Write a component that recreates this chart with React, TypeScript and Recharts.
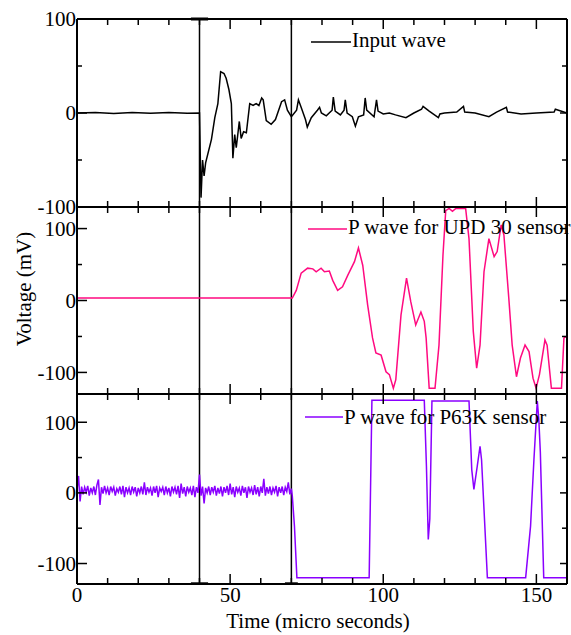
import React from 'react';
import { LineChart, Line, XAxis, YAxis, ReferenceLine, Legend } from 'recharts';

const FONT = '"Liberation Serif", "Times New Roman", serif';
const FS = 21;

const timeTicks = [0, 10, 20, 30, 40, 50, 60, 70, 80, 90, 100, 110, 120, 130, 140, 150, 160];
const voltTicks = [-100, -50, 0, 50, 100];
const markerTimes = [40, 70];

// [time (micro s), voltage (mV)]
const inputWave = [
  [0, 0], [6, 0.5], [12, -0.5], [18, 0.5], [24, -0.3], [30, 0.4], [36, -0.3], [40, 0],
  [40.5, -90], [41, -50], [41.5, -67], [42, -53], [43.9, -28], [45, -5], [46, 10], [46.9, 44],
  [48, 42], [48.7, 37], [49.6, 25], [50.4, 10], [50.9, -48], [51.5, -23], [52, -37], [53, -9],
  [53.6, -27], [54.4, -20], [55.3, -21], [56.4, 10], [57.5, 8], [58.5, 10], [59.4, 8], [60.3, 16],
  [60.8, 14], [61.8, -8], [63.4, -12], [64.8, -7], [66.8, 12], [67.8, 14], [68.7, 3], [70, -4],
  [71.7, 3], [72.3, 14], [73.3, 5], [74.6, -7], [75.2, -15], [76.5, -5], [78.5, 3], [79.2, 6],
  [79.8, 0], [81.4, -3], [83.3, 3], [83.7, 17], [84.3, 2], [86, -2], [87.2, 3], [87.6, 14],
  [88.2, 0], [89.9, -4], [90.9, -14], [91.9, -4], [93.6, -2], [94.1, 16], [94.6, 3], [97, -4],
  [97.8, 14], [98.3, 2], [100, -1], [102, 0], [104, -2], [107.4, -5], [110, 0], [112.5, 4],
  [113, 7], [115, 2], [118, -5], [118.5, -1], [120, 0], [124, 1], [126.2, 7], [126.6, 1],
  [130, 0], [134.5, -4], [137, 1], [140.2, 6], [140.6, 1], [145, -1], [150, 0], [155.8, 1],
  [156.2, 4], [160, 0],
];

const upd30Wave = [
  [0, 3.5], [70.3, 3.5], [71.6, 14], [73.2, 38], [75.3, 45], [77, 44], [78.1, 40], [79.7, 45],
  [80.8, 40], [82.4, 41], [83.5, 28], [85.1, 14], [86.7, 19], [88.4, 35], [90.6, 54], [91.9, 73],
  [93.3, 49], [94.9, -6], [96.5, -52], [97.6, -73], [99.3, -76], [100.9, -99], [102, -103],
  [103.3, -122], [104.1, -110], [105.8, -20], [107.6, 31], [109, -2], [110.6, -34], [112.3, -16],
  [113.4, -29], [114, -52], [115, -122], [116.9, -122], [118.2, -62], [119.5, 63], [120.4, 125],
  [121.5, 128], [122.6, 124], [123.7, 128], [126.9, 128], [128, 86], [129.4, -43], [130.5, -94],
  [131.6, -62], [132.9, 40], [134.5, 86], [136.2, 61], [137.2, 68], [138.5, 105], [139.4, 91],
  [141, 3], [142.1, -62], [143.5, -106], [144.8, -80], [146.3, -62], [147.6, -71], [148.9, -108],
  [149.9, -122], [151, -103], [152.8, -55], [153.5, -62], [154.9, -122], [158.2, -122], [159, -52],
  [160, -50],
];

const p63kWave = [
  [0, 4], [0.5, 24], [1, -12], [1.5, 9], [2, -2], [2.5, 8], [3, 1], [3.5, 10], [4, -4], [4.5, 7],
  [5, 0], [5.5, 9], [6, -3], [6.5, 11], [7, 19], [7.5, -17], [8, 8], [8.5, -1], [9, 10], [9.5, 0],
  [10, 7], [10.5, -3], [11, 9], [11.5, 2], [12, 8], [12.5, -4], [13, 6], [13.5, 1], [14, 9], [14.5, -2],
  [15, 10], [15.5, -6], [16, 8], [16.5, 0], [17, 7], [17.5, -3], [18, 9], [18.5, 1], [19, 8], [19.5, -5],
  [20, 7], [20.5, 0], [21, 9], [21.5, -2], [22, 15], [22.5, -3], [23, 8], [23.5, 1], [24, 7], [24.5, -4],
  [25, 9], [25.5, 0], [26, 10], [26.5, -6], [27, 7], [27.5, 2], [28, 8], [28.5, -3], [29, 9], [29.5, 0],
  [30, 7], [30.5, -5], [31, 9], [31.5, 1], [32, 8], [32.5, -2], [33, 10], [33.5, -7], [34, 13], [34.5, -1],
  [35, 8], [35.5, -5], [36, 9], [36.5, 1], [37, 7], [37.5, -3], [38, 10], [38.5, -6], [39, 8], [39.5, 0],
  [40, 26], [40.5, -4], [41, 9], [41.5, -15], [42, 7], [42.5, 0], [43, 9], [43.5, -3], [44, 8], [44.5, 1],
  [45, 10], [45.5, -4], [46, 7], [46.5, -1], [47, 9], [47.5, -5], [48, 8], [48.5, 0], [49, 10], [49.5, -3],
  [50, 13], [50.5, -2], [51, 8], [51.5, -6], [52, 9], [52.5, 1], [53, 7], [53.5, -4], [54, 10], [54.5, 0],
  [55, 8], [55.5, -7], [56, 9], [56.5, 1], [57, 7], [57.5, -3], [58, 11], [58.5, -2], [59, 8], [59.5, -5],
  [60, 9], [60.5, 0], [61, 20], [61.5, -4], [62, 8], [62.5, -1], [63, 9], [63.5, -3], [64, 7], [64.5, 1],
  [65, 10], [65.5, -5], [66, 8], [66.5, 0], [67, 9], [67.5, -3], [68, 8], [68.5, 2], [69, 15], [69.5, -2],
  [70, 6], [70.3, -4], [71, -47], [71.8, -120], [95.4, -120], [96.3, 131], [113.4, 131],
  [114.1, 38], [114.7, -66], [115.2, -37], [115.9, 130], [128, 130], [128.9, 33], [129.6, 5],
  [130.7, 38], [131.6, 66], [132.1, 47], [134, -120], [146.5, -120], [148.1, -47], [149.2, 47],
  [150.3, 130], [150.8, 104], [151.3, 57], [152.4, -120], [160, -120],
];

const toRows = (pts: number[][]) => pts.map(([t, v]) => ({ t, v }));

const bottomTick = (labels: boolean) => (props: any) => {
  const x = Number(props.x);
  const y = Number(props.y);
  const value = props.payload.value;
  const major = value % 50 === 0;
  return (
    <g>
      <line x1={x} x2={x} y1={y} y2={y - (major ? 10 : 6)} stroke="#000" strokeWidth={1.5} />
      {labels && major && (
        <text x={x} y={y + 18} textAnchor="middle" fontFamily={FONT} fontSize={FS} fill="#000">
          {value}
        </text>
      )}
    </g>
  );
};

const TopTick = (props: any) => {
  const x = Number(props.x);
  const y = Number(props.y);
  const major = props.payload.value % 50 === 0;
  return <line x1={x} x2={x} y1={y} y2={y + (major ? 10 : 6)} stroke="#000" strokeWidth={1.5} />;
};

const LeftTick = (props: any) => {
  const x = Number(props.x);
  const y = Number(props.y);
  const value = props.payload.value;
  const major = value % 100 === 0;
  return (
    <g>
      <line x1={x} x2={x + (major ? 10 : 5)} y1={y} y2={y} stroke="#000" strokeWidth={1.5} />
      {major && (
        <text x={x - 1} y={y} dy="0.35em" textAnchor="end" fontFamily={FONT} fontSize={FS} fill="#000">
          {value}
        </text>
      )}
    </g>
  );
};

const RightTick = (props: any) => {
  const x = Number(props.x);
  const y = Number(props.y);
  const major = props.payload.value % 100 === 0;
  return <line x1={x} x2={x - (major ? 7 : 5)} y1={y} y2={y} stroke="#000" strokeWidth={1.5} />;
};

const axisLine = { stroke: '#000', strokeWidth: 2 };

// the box round each panel: four axes, ticks pointing inward
function frame(domain: number[], timeLabels: boolean) {
  return [
    <XAxis key="xb" xAxisId="b" type="number" dataKey="t" domain={[0, 160]} ticks={timeTicks} interval={0}
      height={1} tickSize={0} tickMargin={0} axisLine={axisLine} tickLine={false}
      tick={bottomTick(timeLabels)} allowDataOverflow />,
    <XAxis key="xt" xAxisId="t" orientation="top" type="number" dataKey="t" domain={[0, 160]} ticks={timeTicks}
      interval={0} height={1} tickSize={0} tickMargin={0} axisLine={axisLine} tickLine={false}
      tick={TopTick} allowDataOverflow />,
    <YAxis key="yl" yAxisId="l" type="number" domain={domain} ticks={voltTicks} interval={0} width={60}
      tickSize={0} tickMargin={0} axisLine={axisLine} tickLine={false} tick={LeftTick} allowDataOverflow />,
    <YAxis key="yr" yAxisId="r" orientation="right" type="number" domain={domain} ticks={voltTicks} interval={0}
      width={1} tickSize={0} tickMargin={0} axisLine={axisLine} tickLine={false} tick={RightTick} allowDataOverflow />,
  ];
}

function markers() {
  return markerTimes.map((t) => (
    <ReferenceLine key={'m' + t} x={t} xAxisId="b" yAxisId="l" stroke="#000" strokeWidth={1.5} ifOverflow="hidden" />
  ));
}

const legendContent = (label: string, color: string, x1: number, x2: number, y: number, base: number) => () => (
  <svg width={571} height={70} style={{ display: 'block', overflow: 'hidden' }}>
    <line x1={x1} x2={x2} y1={y} y2={y} stroke={color} strokeWidth={1.5} />
    <text x={x2 + 1} y={base} fontFamily={FONT} fontSize={FS} fill="#000">{label}</text>
  </svg>
);

const legendWrap = { left: 0, top: 0, width: 571, height: 70, margin: 0, padding: 0 };

const App = () => {
  return (
    <div style={{ position: 'absolute', left: 0, top: 0, width: 571, height: 635, background: '#fff' }}>
      {/* Input wave */}
      <div style={{ position: 'absolute', left: 0, top: 0 }}>
        <LineChart width={571} height={230} margin={{ top: 18, right: 3, bottom: 22, left: 17 }}>
          {frame([-100, 100], false)}
          {markers()}
          <ReferenceLine xAxisId="b" yAxisId="l" segment={[{ x: 37.2, y: 100 }, { x: 42.8, y: 100 }]}
            stroke="#000" strokeWidth={3} ifOverflow="visible" />
          <Line xAxisId="b" yAxisId="l" data={toRows(inputWave)} dataKey="v" type="linear" stroke="#000"
            strokeWidth={1.5} dot={false} isAnimationActive={false} />
          <Legend layout="horizontal" verticalAlign="middle" align="center" wrapperStyle={legendWrap}
            content={legendContent('Input wave', '#000', 311, 351, 42, 47)} />
        </LineChart>
      </div>

      {/* UPD 30 */}
      <div style={{ position: 'absolute', left: 0, top: 180 }}>
        <LineChart width={571} height={230} margin={{ top: 26, right: 3, bottom: 15, left: 17 }}>
          {frame([-130, 130], false)}
          {markers()}
          <Line xAxisId="b" yAxisId="l" data={toRows(upd30Wave)} dataKey="v" type="linear" stroke="#ff0a80"
            strokeWidth={1.5} dot={false} isAnimationActive={false} />
          <Legend layout="horizontal" verticalAlign="middle" align="center" wrapperStyle={legendWrap}
            content={legendContent('P wave for UPD 30 sensor', '#ff0a80', 308, 347, 49, 54)} />
        </LineChart>
      </div>

      {/* P63K */}
      <div style={{ position: 'absolute', left: 0, top: 370 }}>
        <LineChart width={571} height={265} margin={{ top: 23, right: 3, bottom: 50, left: 17 }}>
          {frame([-129, 140], true)}
          {markers()}
          <ReferenceLine xAxisId="b" yAxisId="l" segment={[{ x: 37.2, y: -128 }, { x: 42.8, y: -128 }]}
            stroke="#000" strokeWidth={2} ifOverflow="visible" />
          <ReferenceLine xAxisId="b" yAxisId="l" segment={[{ x: 67.9, y: -128 }, { x: 72.1, y: -128 }]}
            stroke="#000" strokeWidth={2} ifOverflow="visible" />
          <Line xAxisId="b" yAxisId="l" data={toRows(p63kWave)} dataKey="v" type="linear" stroke="#8a00ff"
            strokeWidth={1.5} dot={false} isAnimationActive={false} />
          <Legend layout="horizontal" verticalAlign="middle" align="center" wrapperStyle={legendWrap}
            content={legendContent('P wave for P63K sensor', '#8a00ff', 305, 343, 47, 54)} />
        </LineChart>
      </div>

      {/* axis titles */}
      <svg width={571} height={635} style={{ position: 'absolute', left: 0, top: 0, pointerEvents: 'none' }}>
        <text x={31} y={289} transform="rotate(-90, 31, 289)" textAnchor="middle" fontFamily={FONT}
          fontSize={FS} fill="#000">Voltage (mV)</text>
        <text x={318} y={628} textAnchor="middle" fontFamily={FONT} fontSize={FS} fill="#000">
          Time (micro seconds)
        </text>
      </svg>
    </div>
  );
};

export default App;
